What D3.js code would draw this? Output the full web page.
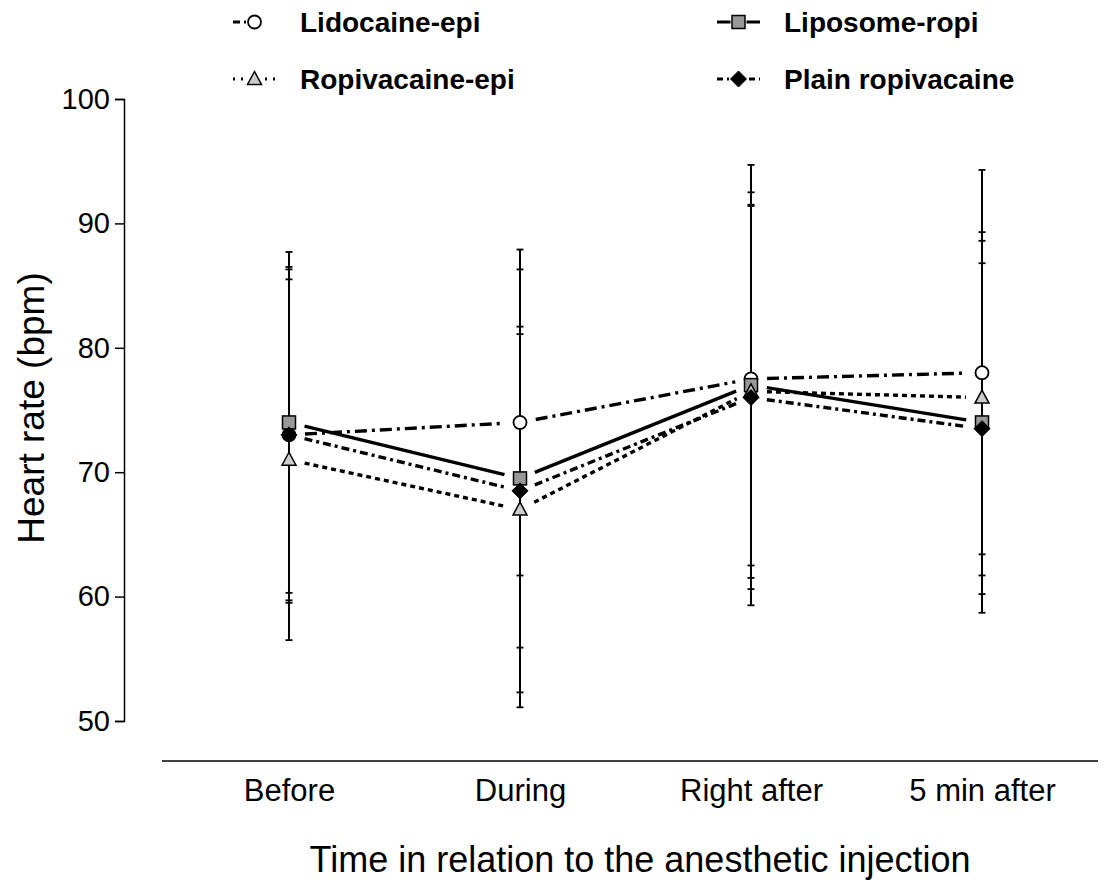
<!DOCTYPE html>
<html>
<head>
<meta charset="utf-8">
<script src="https://cdn.jsdelivr.net/npm/d3@7"></script>
<style>
  body { margin: 0; background: #fff; }
  svg { display: block; font-family: "Liberation Sans", Arial, Helvetica, sans-serif; }
</style>
</head>
<body>
<svg id="chart" width="1107" height="886"></svg>
<script>
// Time points
const timePoints = ["Before", "During", "Right after", "5 min after"];

// Mean heart rate (bpm) per group
const lidocaineEpiMean   = [73, 74, 77.5, 78];
const ropivacaineEpiMean = [71, 67, 76.5, 76];
const liposomeRopiMean   = [74, 69.5, 77, 74];
const plainRopiMean      = [73, 68.5, 76, 73.5];

// Standard deviations per group
const lidocaineEpiSD   = [13.5, 12.3, 15.0, 16.3];
const ropivacaineEpiSD = [14.5, 14.7, 15.0, 12.6];
const liposomeRopiSD   = [13.7, 18.4, 17.7, 15.3];
const plainRopiSD      = [13.3, 12.6, 15.4, 13.3];

const yTicks = [50, 60, 70, 80, 90, 100];

const series = [
  { name: "Lidocaine-epi",     mean: lidocaineEpiMean,   sd: lidocaineEpiSD,   dash: "12,5,3,5", legDash: "7,4,2,30,6,4,2,4", shape: "circle" },
  { name: "Liposome-ropi",     mean: liposomeRopiMean,   sd: liposomeRopiSD,   dash: null,       legDash: null,               shape: "square" },
  { name: "Ropivacaine-epi",   mean: ropivacaineEpiMean, sd: ropivacaineEpiSD, dash: "5,4",      legDash: "2,6",              shape: "triangle" },
  { name: "Plain ropivacaine", mean: plainRopiMean,      sd: plainRopiSD,      dash: "8,4,3,4",  legDash: "6,4,2,4",          shape: "diamond" }
];

const svg = d3.select("#chart");

const x = d3.scalePoint().domain(timePoints).range([289, 982]);
const y = d3.scaleLinear().domain([50, 100]).range([721, 99]);

// Y axis
const yAxis = d3.axisLeft(y).tickValues(yTicks).tickSize(9).tickPadding(5).tickFormat(d3.format("d"));
const yg = svg.append("g").attr("transform", "translate(124,0)").call(yAxis);
yg.select(".domain").attr("stroke", "#000").attr("stroke-width", 1.5);
yg.selectAll(".tick line").attr("stroke", "#000").attr("stroke-width", 1.5);
yg.selectAll(".tick text").attr("font-size", 29).attr("fill", "#000")
  .attr("font-family", "Liberation Sans, Arial, sans-serif");

// X axis (baseline only, no tick marks)
const xAxis = d3.axisBottom(x).tickSize(0).tickPadding(18);
const xg = svg.append("g").attr("transform", "translate(0,761)").call(xAxis);
xg.select(".domain").attr("d", "M162,0H1098").attr("stroke", "#000").attr("stroke-width", 1.5);
xg.selectAll(".tick text").attr("font-size", 31).attr("fill", "#000")
  .attr("font-family", "Liberation Sans, Arial, sans-serif");

// Axis titles
svg.append("text")
  .attr("transform", "translate(44,408) rotate(-90)")
  .attr("text-anchor", "middle")
  .attr("font-size", 37)
  .text("Heart rate (bpm)");

svg.append("text")
  .attr("x", 640).attr("y", 872)
  .attr("text-anchor", "middle")
  .attr("font-size", 36)
  .text("Time in relation to the anesthetic injection");

// Connecting lines, trimmed short of the markers
const trim = 16;
const lineLayer = svg.append("g");
series.forEach(s => {
  for (let i = 0; i < timePoints.length - 1; i++) {
    const x1 = x(timePoints[i]), y1 = y(s.mean[i]);
    const x2 = x(timePoints[i + 1]), y2 = y(s.mean[i + 1]);
    const len = Math.hypot(x2 - x1, y2 - y1);
    const ux = (x2 - x1) / len, uy = (y2 - y1) / len;
    lineLayer.append("line")
      .attr("x1", x1 + ux * trim).attr("y1", y1 + uy * trim)
      .attr("x2", x2 - ux * trim).attr("y2", y2 - uy * trim)
      .attr("stroke", "#000").attr("stroke-width", 3.4)
      .attr("stroke-dasharray", s.dash);
  }
});

// Error bars (mean ± SD)
const errLayer = svg.append("g");
series.forEach(s => {
  timePoints.forEach((t, i) => {
    const cx = x(t);
    const top = y(s.mean[i] + s.sd[i]);
    const bot = y(s.mean[i] - s.sd[i]);
    errLayer.append("line")
      .attr("x1", cx).attr("x2", cx).attr("y1", top).attr("y2", bot)
      .attr("stroke", "#000").attr("stroke-width", 2);
    [top, bot].forEach(yy => {
      errLayer.append("line")
        .attr("x1", cx - 3.5).attr("x2", cx + 3.5).attr("y1", yy).attr("y2", yy)
        .attr("stroke", "#000").attr("stroke-width", 1.8);
    });
  });
});

// Marker drawing
function drawMarker(g, shape, cx, cy) {
  if (shape === "circle") {
    g.append("circle").attr("cx", cx).attr("cy", cy).attr("r", 6.5)
      .attr("fill", "#fff").attr("stroke", "#000").attr("stroke-width", 1.8);
  } else if (shape === "square") {
    g.append("rect").attr("x", cx - 6.5).attr("y", cy - 6.5).attr("width", 13).attr("height", 13)
      .attr("fill", "#999").attr("stroke", "#000").attr("stroke-width", 1.5);
  } else if (shape === "triangle") {
    g.append("path")
      .attr("d", `M${cx},${cy - 7.5}L${cx + 7},${cy + 5.5}L${cx - 7},${cy + 5.5}Z`)
      .attr("fill", "#ccc").attr("stroke", "#000").attr("stroke-width", 1.5);
  } else if (shape === "diamond") {
    g.append("path")
      .attr("d", `M${cx},${cy - 8}L${cx + 8},${cy}L${cx},${cy + 8}L${cx - 8},${cy}Z`)
      .attr("fill", "#000").attr("stroke", "#000").attr("stroke-width", 1);
  }
}

const markerLayer = svg.append("g");
series.forEach(s => {
  timePoints.forEach((t, i) => drawMarker(markerLayer, s.shape, x(t), y(s.mean[i])));
});

// Legend
const legendItems = [
  { s: series[0], lx: 233, ly: 22 },
  { s: series[2], lx: 233, ly: 79 },
  { s: series[1], lx: 717, ly: 22 },
  { s: series[3], lx: 717, ly: 79 }
];
const legend = svg.append("g");
legendItems.forEach(({ s, lx, ly }) => {
  const w = 43;
  legend.append("line")
    .attr("x1", lx).attr("x2", lx + w).attr("y1", ly).attr("y2", ly)
    .attr("stroke", "#000").attr("stroke-width", 3)
    .attr("stroke-dasharray", s.legDash);
  const cx = lx + w / 2;
  // clear the line behind the marker
  legend.append("rect").attr("x", cx - 8).attr("y", ly - 9).attr("width", 16).attr("height", 18).attr("fill", "#fff");
  drawMarker(legend, s.shape, cx, ly);
  legend.append("text")
    .attr("x", lx + 67).attr("y", ly + 10)
    .attr("font-size", 28).attr("font-weight", "bold")
    .text(s.name);
});
</script>
</body>
</html>
